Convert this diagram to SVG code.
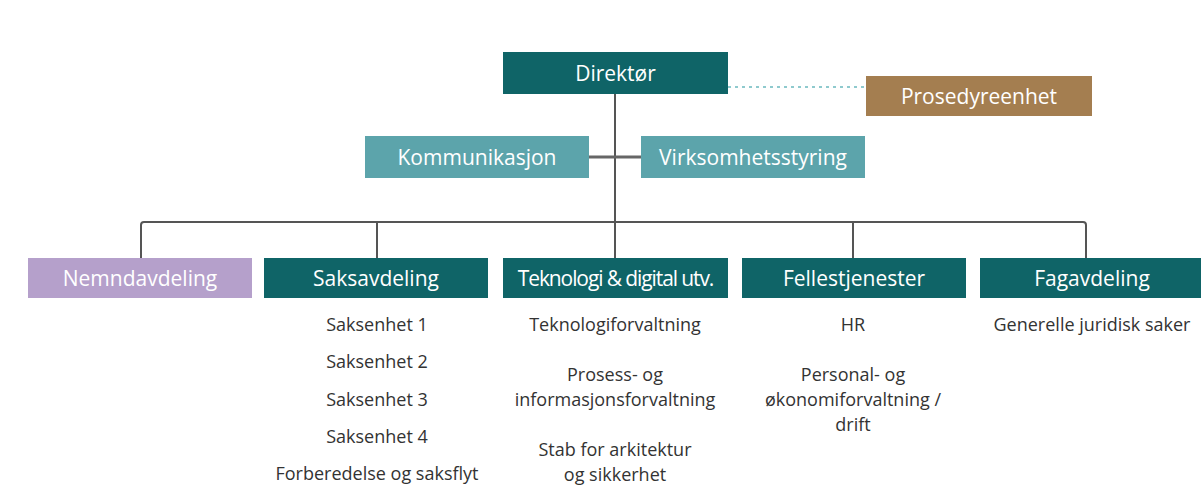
<svg xmlns="http://www.w3.org/2000/svg" width="1201" height="492" viewBox="0 0 1201 492">
<style>
.hd{font-family:"Open Sans","Liberation Sans",sans-serif;font-size:21px;fill:#ffffff;text-anchor:middle;dominant-baseline:central}
.bd{font-family:"Open Sans","Liberation Sans",sans-serif;font-size:18px;fill:#333333;text-anchor:middle}
.dark{fill:#0F6467}
.light{fill:#5CA4AB}
.ln{fill:none;stroke:#555555;stroke-width:2}
</style>
<rect width="1201" height="492" fill="#ffffff"/>
<g id="connectors">
<line x1="728" y1="87" x2="866" y2="87" stroke="#8FCACE" stroke-width="2" stroke-dasharray="3,4"/>
<line class="ln" x1="615" y1="94" x2="615" y2="258"/>
<line x1="589" y1="157" x2="641" y2="157" stroke="#666666" stroke-width="3"/>
<path class="ln" d="M141,258 V225 Q141,222 144,222 H1083 Q1086,222 1086,225 V258"/>
<line class="ln" x1="377" y1="222" x2="377" y2="258"/>
<line class="ln" x1="853" y1="222" x2="853" y2="258"/>
</g>
<g id="direktor"><rect class="dark" x="503" y="52" width="225" height="42"/><text class="hd" x="615.5" y="73">Direktør</text></g>
<g id="prosedyreenhet"><rect fill="#A47E50" x="866" y="76" width="226" height="40"/><text class="hd" x="979" y="96">Prosedyreenhet</text></g>
<g id="kommunikasjon"><rect class="light" x="365" y="136" width="224" height="42"/><text class="hd" x="477" y="157">Kommunikasjon</text></g>
<g id="virksomhetsstyring"><rect class="light" x="641" y="136" width="224" height="42"/><text class="hd" x="753" y="157">Virksomhetsstyring</text></g>
<g id="nemndavdeling"><rect fill="#B5A0CB" x="28" y="258" width="224" height="40"/><text class="hd" x="140" y="278">Nemndavdeling</text></g>
<g id="saksavdeling"><rect class="dark" x="264" y="258" width="224" height="40"/><text class="hd" x="376" y="278">Saksavdeling</text>
<text class="bd" x="377" y="331">Saksenhet 1</text>
<text class="bd" x="377" y="368">Saksenhet 2</text>
<text class="bd" x="377" y="406">Saksenhet 3</text>
<text class="bd" x="377" y="443">Saksenhet 4</text>
<text class="bd" x="377" y="480">Forberedelse og saksflyt</text></g>
<g id="teknologi"><rect class="dark" x="503" y="258" width="225" height="40"/><text class="hd" x="615.5" y="278" style="letter-spacing:-1.1px">Teknologi &amp; digital utv.</text>
<text class="bd" x="615" y="331">Teknologiforvaltning</text>
<text class="bd" x="615" y="381">Prosess- og</text>
<text class="bd" x="615" y="406">informasjonsforvaltning</text>
<text class="bd" x="615" y="456">Stab for arkitektur</text>
<text class="bd" x="615" y="481">og sikkerhet</text></g>
<g id="fellestjenester"><rect class="dark" x="742" y="258" width="224" height="40"/><text class="hd" x="854" y="278">Fellestjenester</text>
<text class="bd" x="853" y="331">HR</text>
<text class="bd" x="853" y="381">Personal- og</text>
<text class="bd" x="853" y="406">økonomiforvaltning /</text>
<text class="bd" x="853" y="431">drift</text></g>
<g id="fagavdeling"><rect class="dark" x="980" y="258" width="221" height="40"/><text class="hd" x="1092" y="278">Fagavdeling</text>
<text class="bd" x="1092" y="331">Generelle juridisk saker</text></g>
</svg>
